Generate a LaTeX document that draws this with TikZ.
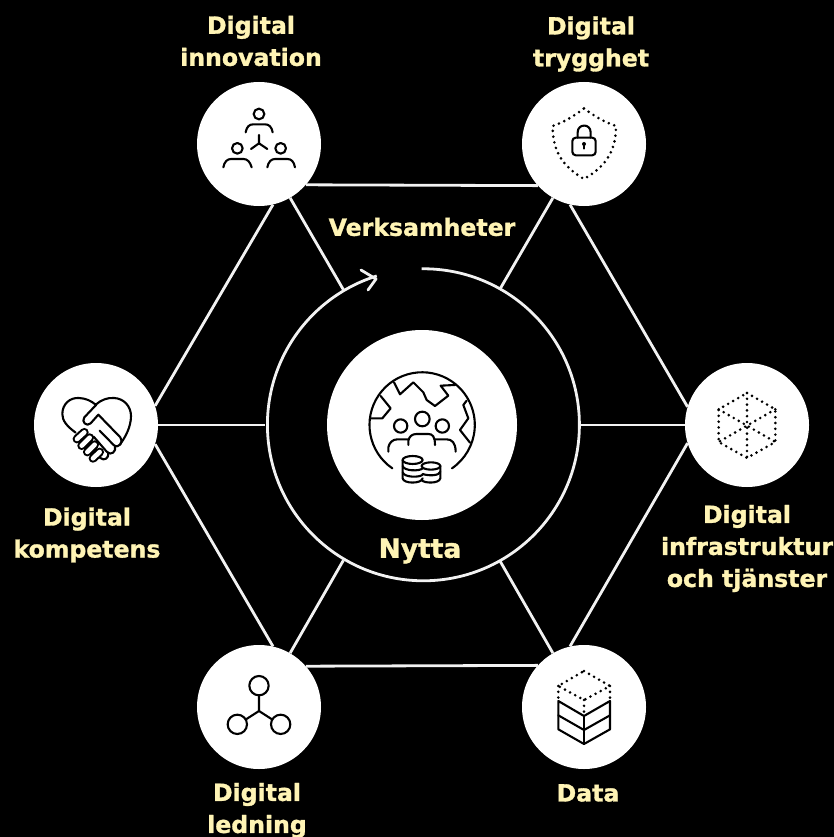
\documentclass[tikz,border=0pt]{standalone}
\usepackage{fontspec}
\setmainfont{DejaVu Sans}
\newfontfamily\labfont[FakeBold=1.3]{DejaVu Sans Bold}
\definecolor{labelcol}{HTML}{FFF4B5}
\definecolor{linecol}{HTML}{F2F2F2}
\tikzset{
  hub/.style={circle,fill=white,draw=none,inner sep=0pt,minimum size=124pt},
  core/.style={circle,fill=white,draw=none,inner sep=0pt,minimum size=190pt},
  ringguide/.style={circle,draw=none,inner sep=0pt,minimum size=312pt},
  link/.style={draw=linecol,line width=2.8pt},
  lab/.style={text=labelcol,font=\labfont\fontsize{23.6}{32}\selectfont,align=center,inner sep=0pt},
  bigLab/.style={text=labelcol,font=\labfont\fontsize{26.5}{32}\selectfont,inner sep=0pt},
  ico/.style={draw=black,line width=2.1pt,line cap=round,line join=round},
  dots/.style={draw=black,line width=2.9pt,line cap=round,dash pattern=on 0pt off 5.8pt},
  finger/.style={draw=black,line width=2.1pt,double=white,double distance=4.6pt,line cap=round}
}
\begin{document}
\begin{tikzpicture}[x=1pt,y=-1pt]
\useasboundingbox (0,0) rectangle (834,837);
\fill[black] (0,0) rectangle (834,837);

\node[ringguide] (ring) at (421.5,425) {};
\node[core] (centre) at (422,425) {};
\node[hub] (tl) at (259,144) {};
\node[hub] (tr) at (584,144) {};
\node[hub] (le) at (96,425) {};
\node[hub] (ri) at (747,425) {};
\node[hub] (bl) at (259,707) {};
\node[hub] (br) at (584,707) {};

% hexagon
\draw[link] (tl.-41.4) -- (tr.-138.6);
\draw[link] (tr.-103) -- (ri.163);
\draw[link] (ri.-163) -- (br.103);
\draw[link] (bl.41.4) -- (br.138.6);
\draw[link] (le.-18) -- (bl.77);
\draw[link] (tl.-77) -- (le.18);
% spokes
\draw[link] (tl.-60) -- (ring.120);
\draw[link] (tr.-120) -- (ring.60);
\draw[link] (le.0) -- (ring.180);
\draw[link] (ri.180) -- (ring.0);
\draw[link] (bl.60) -- (ring.-120);
\draw[link] (br.120) -- (ring.-60);

% ring with gap and arrow
\draw[linecol,line width=2.8pt] (ring.90.7) arc[start angle=-90.7,end angle=252.6,radius=156];
\draw[linecol,line width=2.8pt,line cap=round,line join=round] (361,270) -- (376,279) -- (368,290);

% Digital innovation icon
\begin{scope}[shift={(190,75)},x=0.3333pt,y=-0.3333pt]
\draw[ico] (207,117) circle (16);
\draw[ico] (167,172) .. controls (170,155) and (178,148) .. (190,148) -- (225,148) .. controls (237,148) and (245,155) .. (248,172);
\draw[ico] (207,180) -- (207,205) (207,205) -- (183,222) (207,205) -- (232,222);
\draw[ico] (142,220) circle (16);
\draw[ico] (100,277) .. controls (103,260) and (112,252) .. (123,252) -- (160,252) .. controls (172,252) and (180,260) .. (185,277);
\draw[ico] (272,220) circle (16);
\draw[ico] (232,277) .. controls (235,260) and (244,252) .. (255,252) -- (292,252) .. controls (304,252) and (312,260) .. (315,277);
\end{scope}

% Digital trygghet icon
\begin{scope}[shift={(515,75)},x=0.3333pt,y=-0.3333pt]
\draw[dots] (207,100) .. controls (240,125) and (270,142) .. (303,153) .. controls (303,220) and (280,270) .. (207,312) .. controls (135,270) and (113,220) .. (113,153) .. controls (145,142) and (175,125) .. (207,100);
\draw[ico,rounded corners=3.5pt] (172,188) rectangle (242,241);
\draw[ico] (188,188) -- (188,172) .. controls (188,145) and (227,145) .. (227,172) -- (227,188);
\fill[black] (207,207) circle (6);
\draw[ico] (207,207) -- (207,221);
\end{scope}

% Digital kompetens icon
\begin{scope}[shift={(55,390)},x=0.3333pt,y=-0.3333pt]
\draw[ico] (62,128) .. controls (35,108) and (22,92) .. (22,72) .. controls (22,42) and (45,22) .. (72,24) .. controls (92,25) and (108,32) .. (122,44) .. controls (138,30) and (158,22) .. (178,24) .. controls (208,26) and (228,50) .. (228,78) .. controls (228,110) and (212,140) .. (196,162);
\draw[ico] (124,44) -- (88,82) .. controls (78,95) and (95,112) .. (107,100) -- (130,74) -- (196,142) .. controls (208,156) and (190,178) .. (176,165) -- (134,122);
\draw[ico] (180,168) .. controls (185,185) and (168,198) .. (156,186) -- (116,140);
\draw[ico] (160,188) .. controls (162,205) and (148,214) .. (136,204) -- (100,165);
\draw[finger] (66,147) -- (88,127);
\draw[finger] (80,167) -- (104,143);
\draw[finger] (97,186) -- (119,164);
\draw[finger] (114,205) -- (134,186);
\end{scope}

% Digital infrastruktur icon
\begin{scope}[shift={(678,357)},x=0.3333pt,y=-0.3333pt]
\draw[dots] (207,108) -- (292,157) -- (292,255) -- (207,303) -- (122,255) -- (122,157) -- cycle;
\draw[dots] (207,108) -- (207,303);
\draw[dots] (122,157) -- (292,255);
\draw[dots] (292,157) -- (122,255);
\end{scope}

% Digital ledning icon
\begin{scope}[shift={(190,640)},x=0.3333pt,y=-0.3333pt]
\draw[ico] (207,137) circle (29);
\draw[ico] (142,253) circle (29);
\draw[ico] (272,253) circle (29);
\draw[ico] (207,166) -- (207,213) -- (168,238);
\draw[ico] (207,213) -- (246,238);
\end{scope}

% Data icon
\begin{scope}[shift={(515,640)},x=0.3333pt,y=-0.3333pt]
\draw[dots] (207,93) -- (285,138) -- (207,180) -- (130,138) -- cycle;
\draw[dots] (130,138) -- (130,176);
\draw[dots] (285,138) -- (285,176);
\draw[dots] (207,180) -- (207,222);
\draw[ico] (130,183) -- (207,228) -- (285,183) -- (285,268) -- (207,312) -- (130,268) -- cycle;
\draw[ico] (207,228) -- (207,312);
\draw[ico] (130,226) -- (207,270) -- (285,226);
\end{scope}

% Centre icon
\begin{scope}[shift={(320,330)},x=0.3333pt,y=-0.3333pt]
\draw[ico] (217,415) arc[start angle=124.5,end angle=415.5,radius=158];
\draw[ico] (222,157) -- (240,193) -- (280,157) -- (310,187) -- (320,210) -- (345,228) -- (385,197) -- (362,167) -- (405,165);
\draw[ico] (182,198) -- (212,235) -- (187,265) -- (150,265);
\draw[ico] (440,212) -- (430,225) -- (445,265) -- (420,300) -- (450,338);
\draw[ico] (307,267) circle (22);
\draw[ico] (242,288) circle (20);
\draw[ico] (367,288) circle (20);
\draw[ico] (265,345) -- (265,332) .. controls (268,320) and (275,312) .. (290,312) -- (325,312) .. controls (338,312) and (345,320) .. (345,345);
\draw[ico] (205,365) -- (205,352) .. controls (208,338) and (218,328) .. (232,328) -- (265,328);
\draw[ico] (345,328) -- (380,328) .. controls (395,328) and (407,338) .. (407,365);
\draw[ico] (278,390) ellipse [x radius=30,y radius=12];
\draw[ico] (248,390) -- (248,445) .. controls (250,462) and (305,462) .. (308,445);
\draw[ico] (248,408) .. controls (252,424) and (300,424) .. (308,415);
\draw[ico] (248,427) .. controls (252,443) and (300,443) .. (308,434);
\draw[ico] (333,408) ellipse [x radius=28,y radius=11];
\draw[ico] (361,408) -- (361,445) .. controls (358,462) and (310,460) .. (305,450);
\draw[ico] (361,425) .. controls (358,438) and (325,438) .. (308,432);
\end{scope}

% Labels
\node[lab] (l1) at (251,41) {Digital\\innovation};
\node[lab] (l2) at (591,44) {Digital\\trygghet};
\node[lab] (l3) at (87,535) {Digital\\kompetens};
\node[lab] (l4) at (747,548.5) {Digital\\infrastruktur\\och tjänster};
\node[lab] (l5) at (257,810.5) {Digital\\ledning};
\node[lab] (l6) at (588,793) {Data};
\node[lab] (l7) at (422,227) {Verksamheter};
\node[bigLab] (l8) at (420,551) {Nytta};
\end{tikzpicture}
\end{document}
